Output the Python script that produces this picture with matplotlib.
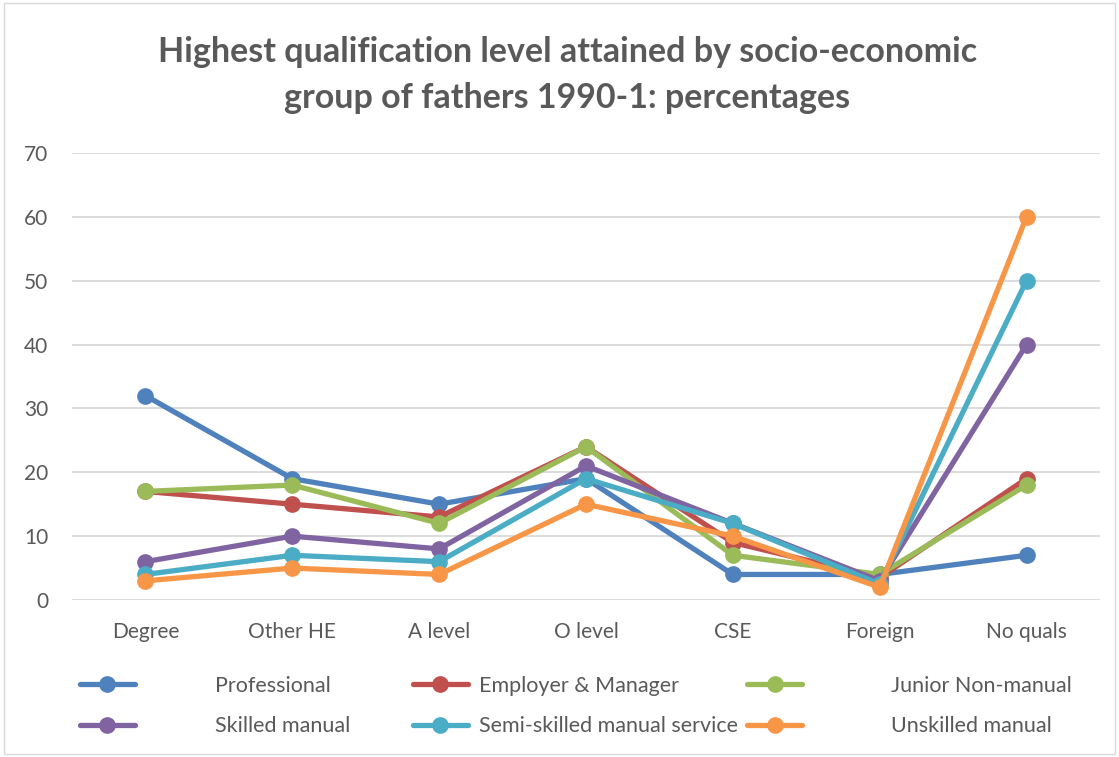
import matplotlib
matplotlib.use("Agg")
import matplotlib.pyplot as plt
from matplotlib.patches import Rectangle

plt.rcParams["font.family"] = ["Lato", "DejaVu Sans"]

# Data
categories = ["Degree", "Other HE", "A level", "O level", "CSE", "Foreign", "No quals"]
professional = [32, 19, 15, 19, 4, 4, 7]
employer_manager = [17, 15, 13, 24, 9, 3.5, 19]
junior_non_manual = [17, 18, 12, 24, 7, 4, 18]
skilled_manual = [6, 10, 8, 21, 12, 3, 40]
semi_skilled = [4, 7, 6, 19, 12, 2.5, 50]
unskilled = [3, 5, 4, 15, 10, 2, 60]

series = [
    ("Professional", professional, "#4F81BD"),
    ("Employer & Manager", employer_manager, "#C0504D"),
    ("Junior Non-manual", junior_non_manual, "#9BBB59"),
    ("Skilled manual", skilled_manual, "#8064A2"),
    ("Semi-skilled manual service", semi_skilled, "#4BACC6"),
    ("Unskilled manual", unskilled, "#F79646"),
]

text_gray = "#595959"

fig = plt.figure(figsize=(11.19, 7.57), dpi=100)
ax = fig.add_axes([0.0643, 0.2074, 0.9187, 0.5906])

x = list(range(len(categories)))
handles = []
for name, vals, color in series:
    (ln,) = ax.plot(x, vals, color=color, linewidth=3.8, marker="o",
                    markersize=11, markeredgecolor=color, label=name,
                    solid_capstyle="round", zorder=3)
    handles.append(ln)

ax.set_xlim(-0.5, len(categories) - 0.5)
ax.set_ylim(0, 70)
ax.set_yticks(range(0, 71, 10))
ax.set_xticks(x)
ax.set_xticklabels(categories)
ax.grid(axis="y", color="#D9D9D9", linewidth=1.3, zorder=0)
ax.set_axisbelow(True)
for s in ax.spines.values():
    s.set_visible(False)
ax.tick_params(length=0, labelsize=15, colors=text_gray)
ax.tick_params(axis="y", pad=17)
ax.tick_params(axis="x", pad=16)

fig.text(0.507, 0.901, "Highest qualification level attained by socio-economic\n"
         "group of fathers 1990-1: percentages",
         ha="center", va="center", fontsize=24.5, fontweight="bold",
         color=text_gray, linespacing=1.55)

# legend in three columns, spaced like the original
cols = [(0.0715, [0, 3], 3.7), (0.369, [1, 4], 0.5), (0.668, [2, 5], 4.1)]
for xpos, idx, pad in cols:
    fig.legend([handles[i] for i in idx], [series[i][0] for i in idx],
               loc="center left", bbox_to_anchor=(xpos, 0.0674),
               frameon=False, fontsize=15.5, handlelength=2.55,
               handletextpad=pad, labelspacing=0.95, borderpad=0,
               borderaxespad=0, labelcolor=text_gray)

fig.patches.append(Rectangle((0.004, 0.004), 0.992, 0.992, transform=fig.transFigure,
                             fill=False, edgecolor="#D9D9D9", linewidth=1))

fig.savefig("out.png", dpi=100)
